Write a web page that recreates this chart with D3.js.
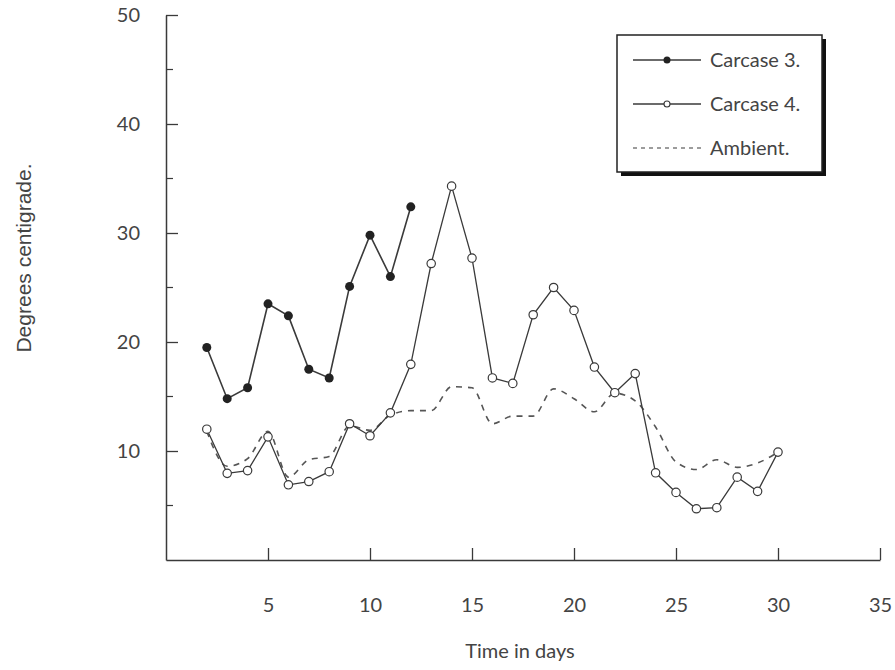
<!DOCTYPE html>
<html>
<head>
<meta charset="utf-8">
<script src="https://cdn.jsdelivr.net/npm/d3@7"></script>
<style>
  body { margin: 0; background: #fff; }
  svg { display: block; }
</style>
</head>
<body>
<svg id="chart" width="895" height="670"></svg>
<script>
// data
const days3 = [2, 3, 4, 5, 6, 7, 8, 9, 10, 11, 12];
const carcase3 = [19.5, 14.8, 15.8, 23.5, 22.4, 17.5, 16.7, 25.1, 29.8, 26.0, 32.4];

const days4 = [2, 3, 4, 5, 6, 7, 8, 9, 10, 11, 12, 13, 14, 15, 16, 17, 18, 19, 20, 21, 22, 23, 24, 25, 26, 27, 28, 29, 30];
const carcase4 = [12.0, 7.95, 8.2, 11.3, 6.9, 7.2, 8.1, 12.5, 11.4, 13.5, 17.95, 27.2, 34.3, 27.7, 16.7, 16.2,
                  22.5, 25.0, 22.9, 17.7, 15.35, 17.1, 8.0, 6.2, 4.7, 4.8, 7.6, 6.3, 9.9];

const daysAmb = days4;
const ambient = [11.8, 8.6, 9.3, 11.8, 7.6, 9.2, 9.5, 12.3, 11.9, 13.3, 13.7, 13.7, 15.9, 15.8, 12.5, 13.2,
                 13.2, 15.7, 14.8, 13.6, 15.3, 14.6, 12.2, 9.0, 8.3, 9.2, 8.5, 8.9, 9.9];

const xTicks = [5, 10, 15, 20, 25, 30, 35];
const yTicks = [10, 20, 30, 40, 50];
const yMinor = [5, 15, 25, 35, 45];

const legendItems = [
  { label: "Carcase 3.", kind: "filled" },
  { label: "Carcase 4.", kind: "open" },
  { label: "Ambient.", kind: "dashed" }
];

const ink = "#3a3a3a";
const numFont = "Lato, 'Open Sans', sans-serif";

const svg = d3.select("#chart");

// scales
const x = d3.scaleLinear().domain([0, 35]).range([166, 880]);
const y = d3.scaleLinear().domain([0, 50]).range([560, 15]);

// x axis, ticks point up into the plot
const xAxis = svg.append("g")
  .attr("transform", `translate(0,${y(0)})`)
  .call(d3.axisBottom(x).tickValues(xTicks).tickSizeInner(-12).tickSizeOuter(0).tickPadding(38));

// y axis, ticks point right
const yAxis = svg.append("g")
  .attr("transform", `translate(${x(0)},0)`)
  .call(d3.axisLeft(y).tickValues(yTicks).tickSizeInner(-12).tickSizeOuter(0).tickPadding(26));

[xAxis, yAxis].forEach(g => {
  g.select(".domain").attr("stroke", ink).attr("stroke-width", 1.5);
  g.selectAll(".tick line").attr("stroke", ink).attr("stroke-width", 1.3);
  g.selectAll(".tick text")
    .attr("fill", "#444")
    .style("font-family", numFont)
    .style("font-size", "20px");
});

// minor ticks on y
svg.append("g").selectAll("line")
  .data(yMinor)
  .join("line")
  .attr("x1", x(0)).attr("x2", x(0) + 7)
  .attr("y1", d => y(d)).attr("y2", d => y(d))
  .attr("stroke", ink).attr("stroke-width", 1.2);

// axis titles
svg.append("text")
  .attr("x", 520)
  .attr("y", 658)
  .attr("text-anchor", "middle")
  .attr("fill", "#444")
  .style("font-family", numFont)
  .style("font-size", "20px")
  .text("Time in days");

svg.append("text")
  .attr("transform", "translate(31,258) rotate(-90)")
  .attr("text-anchor", "middle")
  .attr("fill", "#444")
  .style("font-family", "'Liberation Sans', Arial, sans-serif")
  .style("font-size", "21px")
  .text("Degrees centigrade.");

// lines
const line = d3.line().x(d => x(d[0])).y(d => y(d[1]));
const smooth = d3.line().x(d => x(d[0])).y(d => y(d[1])).curve(d3.curveMonotoneX);

const pts3 = days3.map((d, i) => [d, carcase3[i]]);
const pts4 = days4.map((d, i) => [d, carcase4[i]]);
const ptsA = daysAmb.map((d, i) => [d, ambient[i]]);

svg.append("path")
  .datum(ptsA)
  .attr("fill", "none")
  .attr("stroke", "#555")
  .attr("stroke-width", 1.6)
  .attr("stroke-dasharray", "6,6")
  .attr("d", smooth);

svg.append("path")
  .datum(pts4)
  .attr("fill", "none")
  .attr("stroke", ink)
  .attr("stroke-width", 1.3)
  .attr("d", line);

svg.append("path")
  .datum(pts3)
  .attr("fill", "none")
  .attr("stroke", ink)
  .attr("stroke-width", 1.6)
  .attr("d", line);

svg.append("g").selectAll("circle")
  .data(pts4)
  .join("circle")
  .attr("cx", d => x(d[0]))
  .attr("cy", d => y(d[1]))
  .attr("r", 4.2)
  .attr("fill", "#fff")
  .attr("stroke", ink)
  .attr("stroke-width", 1.2);

svg.append("g").selectAll("circle")
  .data(pts3)
  .join("circle")
  .attr("cx", d => x(d[0]))
  .attr("cy", d => y(d[1]))
  .attr("r", 4.5)
  .attr("fill", "#222");

// legend box with drop shadow
const lg = svg.append("g");
lg.append("rect")
  .attr("x", 621).attr("y", 39)
  .attr("width", 205).attr("height", 137)
  .attr("fill", "#111");
lg.append("rect")
  .attr("x", 617).attr("y", 35)
  .attr("width", 205).attr("height", 137)
  .attr("fill", "#fff")
  .attr("stroke", "#222")
  .attr("stroke-width", 1.5);

legendItems.forEach((d, i) => {
  const cy = 60 + i * 44;
  lg.append("line")
    .attr("x1", 633).attr("x2", 701)
    .attr("y1", cy).attr("y2", cy)
    .attr("stroke", ink)
    .attr("stroke-width", d.kind === "dashed" ? 1.2 : 1.3)
    .attr("stroke-dasharray", d.kind === "dashed" ? "4,4" : null);
  if (d.kind === "filled") {
    lg.append("circle").attr("cx", 667).attr("cy", cy).attr("r", 3.5).attr("fill", "#222");
  } else if (d.kind === "open") {
    lg.append("circle").attr("cx", 667).attr("cy", cy).attr("r", 3)
      .attr("fill", "#fff").attr("stroke", ink).attr("stroke-width", 1.1);
  }
  lg.append("text")
    .attr("x", 710)
    .attr("y", cy)
    .attr("dy", "0.35em")
    .attr("fill", "#444")
    .style("font-family", numFont)
    .style("font-size", "20px")
    .text(d.label);
});
</script>
</body>
</html>
